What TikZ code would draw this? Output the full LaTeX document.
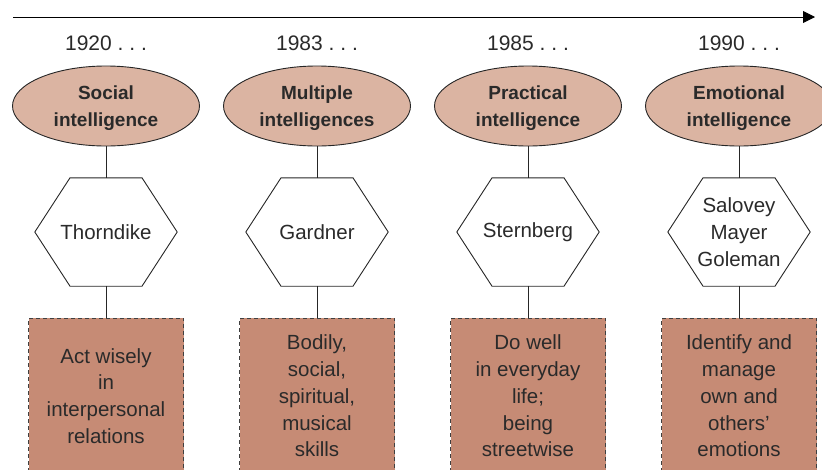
\documentclass[tikz,border=0pt]{standalone}
\usepackage{fontspec}
\setmainfont{Liberation Sans}
\usetikzlibrary{shapes.geometric,arrows.meta,calc}
\definecolor{ellfill}{HTML}{DBB4A2}
\definecolor{boxfill}{HTML}{C68B75}
\definecolor{txt}{HTML}{2A2A2A}
\newcommand\hexdraw[1]{\draw[conn] (#1.west) -- ($(#1.north)+(-36,0)$) -- ($(#1.north)+(36,0)$) -- (#1.east) -- ($(#1.south)+(36,0)$) -- ($(#1.south)+(-36,0)$) -- cycle;}
\begin{document}
\begin{tikzpicture}[x=1pt,y=-1pt,
  font=\fontsize{20.5}{26.8}\selectfont, text=txt,
  conn/.style={draw=black!85, line width=0.9pt},
  ell/.style={ellipse, draw=black!85, line width=0.9pt, fill=ellfill,
    minimum width=187pt, minimum height=80pt, inner sep=0pt, align=center,
    text depth=0pt, font=\fontsize{19}{26.8}\selectfont\bfseries},
  hexn/.style={minimum width=142pt, minimum height=108pt, inner sep=0pt, align=center},
  descbox/.style={rectangle, draw=black!75, dash pattern=on 4pt off 3pt, line width=0.9pt,
    fill=boxfill, minimum width=155pt, minimum height=156pt, inner sep=0pt, align=center},
  year/.style={inner sep=0pt, anchor=center, font=\fontsize{21}{26}\selectfont}]
\useasboundingbox (0,0) rectangle (822,469);

\coordinate (as) at (13,17);
\coordinate (ae) at (815,17);
\draw[line width=0.9pt, -{Triangle[length=12pt,width=12pt]}] (as) -- (ae);

\foreach \i/\x/\yr/\e/\h/\b in {
  1/106/1920/{Social\\intelligence}/{Thorndike}/{Act wisely\\in\\interpersonal\\relations},
  2/317/1983/{Multiple\\intelligences}/{Gardner}/{Bodily,\\social,\\spiritual,\\musical\\skills},
  3/528/1985/{Practical\\intelligence}/{Sternberg}/{Do well\\in everyday\\life;\\being\\streetwise},
  4/739/1990/{Emotional\\intelligence}/{Salovey\\Mayer\\Goleman}/{Identify and\\manage\\own and\\others'\\emotions}}{
  \node[year] (y\i) at (\x,43) {\yr\ .\ .\ .};
  \node[ell] (e\i) at (\x,106) {\e};
  \node[hexn] (h\i) at (\x,232) {\h};
  \node[descbox] (b\i) at (\x,396) {\b};
  \hexdraw{h\i}
  \draw[conn] (e\i.south) -- (h\i.north);
  \draw[conn] (h\i.south) -- (b\i.north);
}
\end{tikzpicture}
\end{document}
